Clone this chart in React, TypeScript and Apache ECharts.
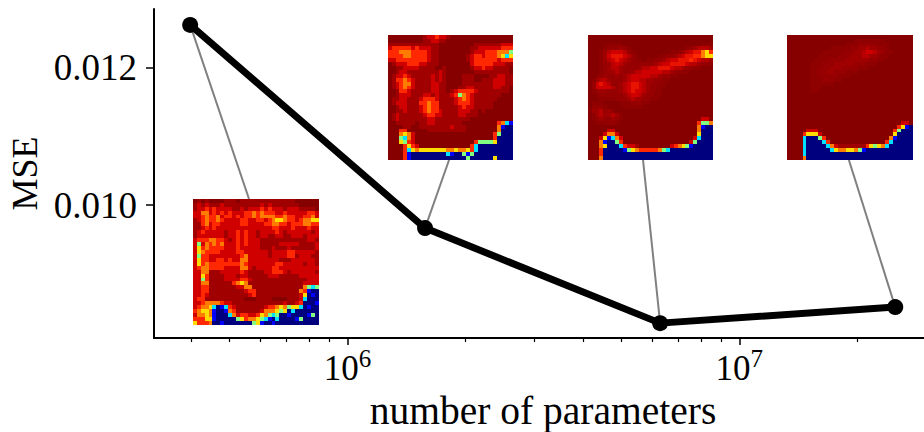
import React, { useEffect, useRef } from "react";
import * as echarts from "echarts";

const FONT = "'Liberation Serif', serif";

const parameterCounts = [397000, 1578000, 6280000, 25000000];
const mseValues = [0.012628, 0.009664, 0.008277, 0.008511];
const xMajorTicks = [1e6, 1e7];
const xMinorTicks = [4e5, 5e5, 6e5, 7e5, 8e5, 9e5, 2e6, 3e6, 4e6, 5e6, 6e6, 7e6, 8e6, 9e6, 2e7];
const yTicks = [0.01, 0.012];
const connectorEnds: [number, number][] = [
  [561000, 0.010088],
  [1817000, 0.010657],
  [5680000, 0.010657],
  [19040000, 0.010657],
];

// Jet colours, value 9 = darkest red .. 0 = darkest blue
const jetScale = ["#00007f", "#0000ff", "#00e0ff", "#80ff80", "#ffdc00", "#ff7c00", "#ff2800", "#d00000", "#a00000", "#860000"];
// In-between levels used in the cell rows
const halfLevels: Record<string, number> = { a: 8.67, b: 8.33, c: 7.5, d: 6.5 };

const inset1 = [
  "98989999 88898888 88888888 88999999",
  "87878887 88888888 87878888 88899999",
  "87767677 77887877 76767778 77788889",
  "77557676 76777665 65666776 77777667",
  "77656657 66767665 65555665 66776657",
  "87656656 77776677 66765445 66765544",
  "88657667 77776677 77665566 76665566",
  "88767677 77777777 77776677 76777677",
  "87677777 87767677 87777678 77777787",
  "87777777 87767677 87788778 87778777",
  "76665566 78767677 78888888 88888778",
  "73756565 77767677 78888877 77788887",
  "74656666 77767777 78887888 78888887",
  "74566667 77766777 77787777 66777778",
  "73667777 77776577 77787777 66877788",
  "74667766 76775577 77777788 87777778",
  "74656666 66665677 77777667 77778778",
  "76556666 77775578 77776677 77777777",
  "77558887 77776788 88776667 87777778",
  "77468888 77787788 88877788 88877777",
  "77368888 77776678 88888888 88888777",
  "77558888 88654588 88888888 88887777",
  "77668888 88877558 88888888 88885323",
  "77668888 88888766 88888888 88856100",
  "77678888 88888876 88888888 88874010",
  "76688888 88888999 88889999 88872000",
  "77655556 77888888 88888887 88760001",
  "76554201 26788888 88766545 34420100",
  "65445100 15688888 87555434 02000000",
  "75545100 02576677 64532300 10000130",
  "66644100 00034655 43210200 00130000",
  "46665001 00000003 41001000 00000000",
];
const inset2 = [
  "99999999 98776778 99999999 99999999",
  "99999999 98877889 99999999 99999999",
  "88888888 88888999 99999988 88888777",
  "76666676 77788999 99999887 77777666",
  "66655566 66788999 99999877 76665553",
  "66665566 66788999 99998766 76665424",
  "77666666 66788999 99998766 66667666",
  "98777666 77888999 99999766 66677788",
  "99887777 88889989 99999877 67788889",
  "99877888 88888789 99999988 88888889",
  "98776788 88878789 99988899 99887788",
  "98665678 88878789 99988899 88877788",
  "98765578 88877889 99988888 88877788",
  "98765678 88877889 99887788 88877889",
  "99866788 88877889 87666678 88888889",
  "99877788 87787888 76356788 88888999",
  "98877888 76667888 87656788 88889999",
  "98777888 66566888 87666788 88899999",
  "99877888 76566888 88767788 88899999",
  "99887888 76566788 88777889 89999999",
  "98788888 87667788 88778889 99999999",
  "98788888 88778888 88888999 99999999",
  "99888889 88778888 88899999 99996521",
  "99998899 88888888 78889999 99995100",
  "99966999 99888888 88889999 99995000",
  "99954579 99999999 99999999 99963000",
  "99932579 99999999 99999999 99960000",
  "99943679 99999999 99999963 33340000",
  "99996467 99999999 99999620 00000000",
  "99996245 44444445 54554620 00000000",
  "99996100 00000002 10031300 00000000",
  "99996100 00000000 00003000 00040000",
];
const inset3 = [
  "99999999 99999999 99999999 99999999",
  "99999999 99999999 99999999 99999999",
  "99999aaa a9999999 99999999 99999aaa",
  "9999abbb 8ba99999 99999999 9ab8ccc8",
  "999a8c77 7cba9999 99999aab 8c7dd546",
  "999a87dd d7cba999 99aabb8c 7dd66544",
  "999a8c7d 7c8baa9a abb8c77d dd6d7cc8",
  "999ab8c7 c8bbbbbb b8c77ddd d7cc8bba",
  "999ab8cc 8bbbb8cc 77ddd7cc 8bbaa999",
  "999ab88c 8bb8cc77 777cc8bb aa999999",
  "99ab8bb8 b8c77777 cc8bbaa9 99999999",
  "9a8cc8bb b8c77cc8 8bbaa999 99999999",
  "9b7d7cbb 8c7dd7c8 bbaa9999 99999999",
  "9b7777cb 8c7dd7c8 bbaa9999 99999999",
  "9ab88bbb 8c7d77c8 baa99999 99999999",
  "99abbbbb b8c77c8b baa99999 99999999",
  "999aaaab bb8c88bb aa999999 99999999",
  "9aaa9999 aaabbbaa 99999999 99999999",
  "9bbba999 9aaaaa99 99999999 99999999",
  "a88cb8a9 99999999 99999999 99999999",
  "9a8c88c8 a9999999 99999999 99999999",
  "9ab8bb8b a9999999 99999999 99999779",
  "99aaabba 99999999 99999999 99996335",
  "99999999 99999999 99999999 99995100",
  "99999779 99999999 99999999 99995000",
  "99997557 99999999 99999999 99994000",
  "99974125 79999999 99999999 99972000",
  "99951003 69999999 99999999 99730000",
  "99954000 26778999 99999765 43100000",
  "99960000 01345666 66532000 00000000",
  "99960000 00000000 00000000 00000000",
  "99950000 00000000 00000000 00000000",
];
const inset4 = [
  "99999999 99999999 99999999 99999999",
  "99999999 99999999 9aaaaaaa a9999999",
  "99999999 9999999a aabbbbba aa999999",
  "99999999 999aaaaa bb88c88b ba999999",
  "99999999 9aaaaabb b88c77c8 baa99999",
  "99999999 aaaaabbb 888cc88b aa999999",
  "9999999a aabbbbb8 88888bba a9999999",
  "999999aa abbb8888 8bbbaaa9 99999999",
  "999999aa bbb888bb bbaaa999 99999999",
  "999999aa bb88bbba aa999999 99999999",
  "999999aa bbbbbaaa 99999999 99999999",
  "999999aa abbbaa99 99999999 99999999",
  "999999aa aaaa9999 99999999 99999999",
  "999999aa a9999999 99999999 99999999",
  "999999aa 99999999 99999999 99999999",
  "99999999 99999999 99999999 99999999",
  "99999999 99999999 99999999 99999999",
  "99999999 99999999 99999999 99999999",
  "99999999 99999999 99999999 99999999",
  "99999999 99999999 99999999 99999999",
  "99999999 99999999 99999999 99999999",
  "99999999 99999999 99999999 99999999",
  "99999999 99999999 99999999 99999779",
  "99999999 99999999 99999999 99996410",
  "99999777 99999999 99999999 99963000",
  "99996444 79999999 99999999 99940000",
  "99992000 36999999 99999999 99510000",
  "99992000 02699999 99999999 96200000",
  "99992000 00257888 88886434 52000000",
  "99992000 00024554 45310000 00000000",
  "99992000 00000000 00000000 00000000",
  "99995000 00000000 00000000 00000000",
];
const insets = [inset1, inset2, inset3, inset4];
const insetBoxes = [
  { left: 193, top: 199, width: 126, height: 126 },
  { left: 388, top: 35, width: 125, height: 125 },
  { left: 588, top: 35, width: 125, height: 125 },
  { left: 787, top: 35, width: 126, height: 125 },
];
const X_MIN = 321000;
const X_MAX = 29600000;
const Y_MIN = 0.00806;
const Y_MAX = 0.01286;

function cellsOf(rows: string[]) {
  const cells: number[][] = [];
  rows.forEach((row, r) => {
    row.replace(/ /g, "").split("").forEach((c, col) => cells.push([col, r, halfLevels[c] ?? Number(c)]));
  });
  return cells;
}
const cellIds = Array.from({ length: 32 }, (_, i) => String(i));

export default function App() {
  const ref = useRef<HTMLDivElement>(null);
  useEffect(() => {
    const chart = echarts.init(ref.current!, undefined, { renderer: "svg" });
    const mainGrid = { left: 154, top: 9, width: 770, height: 329, outerBoundsMode: "none" };
    const xBase = { type: "log", logBase: 10, min: X_MIN, max: X_MAX, gridIndex: 0, splitLine: { show: false }, minorTick: { show: false }, minorSplitLine: { show: false } };
    const hiddenCat = (gridIndex: number, inverse: boolean) => ({
      type: "category", data: cellIds, gridIndex: gridIndex, inverse, show: false, boundaryGap: true,
    });
    chart.setOption({
      animation: false,
      backgroundColor: "#ffffff",
      textStyle: { fontFamily: FONT },
      grid: [mainGrid, ...insetBoxes.map((b) => ({ ...b, outerBoundsMode: "none" }))],
      visualMap: {
        show: false, type: "continuous", min: 0, max: 9,
        seriesIndex: [5, 6, 7, 8],
        inRange: { color: jetScale },
      },
      xAxis: [
        {
          ...xBase,
          name: "number of parameters",
          nameLocation: "middle",
          nameGap: 53,
          nameTextStyle: { fontFamily: FONT, fontSize: 39.5, color: "#000", padding: [0, 0, 0, 8] },
          axisLine: { show: true, lineStyle: { color: "#000", width: 2 } },
          axisTick: { show: true, length: 7, lineStyle: { color: "#000", width: 1.5 }, customValues: xMajorTicks },
          axisLabel: {
            show: true,
            customValues: xMajorTicks,
            margin: 8,
            formatter: (v: number) => `{b|10}{s|${Math.round(Math.log10(v))}}`,
            rich: {
              b: { fontFamily: FONT, fontSize: 35, color: "#000", lineHeight: 40, verticalAlign: "bottom" },
              s: { fontFamily: FONT, fontSize: 25, color: "#000", lineHeight: 40, verticalAlign: "top" },
            },
          },
        },
        {
          ...xBase,
          position: "bottom",
          axisLine: { show: false },
          axisTick: { show: true, length: 4, lineStyle: { color: "#000", width: 1.2 }, customValues: xMinorTicks },
          axisLabel: { show: false },
        },
        ...insetBoxes.map((_, i) => hiddenCat(i + 1, false)),
      ],
      yAxis: [
        {
          type: "value", min: Y_MIN, max: Y_MAX, gridIndex: 0,
          name: "MSE",
          nameLocation: "middle",
          nameGap: 110,
          nameRotate: 90,
          nameTextStyle: { fontFamily: FONT, fontSize: 36, color: "#000" },
          splitLine: { show: false },
          axisLine: { show: true, lineStyle: { color: "#000", width: 2 } },
          axisTick: { show: true, length: 8, lineStyle: { color: "#000", width: 1.5 }, customValues: yTicks },
          axisLabel: {
            show: true, customValues: yTicks, margin: 17,
            fontFamily: FONT, fontSize: 37, color: "#000",
            formatter: (v: number) => v.toFixed(3),
          },
        },
        ...insetBoxes.map((_, i) => hiddenCat(i + 1, true)),
      ],
      series: [
        ...connectorEnds.map((end, i) => ({
          type: "line", xAxisIndex: 0, yAxisIndex: 0, symbol: "none", silent: true, z: 1,
          lineStyle: { color: "#808080", width: 2 },
          data: [[parameterCounts[i], mseValues[i]], end],
        })),
        {
          type: "line", xAxisIndex: 0, yAxisIndex: 0, symbol: "circle", symbolSize: 16, z: 4,
          itemStyle: { color: "#000" },
          lineStyle: { color: "#000", width: 7 },
          data: parameterCounts.map((x, i) => [x, mseValues[i]]),
        },
        ...insets.map((rows, i) => ({
          type: "heatmap", xAxisIndex: i + 2, yAxisIndex: i + 1, z: 3, silent: true, progressive: 0,
          itemStyle: { borderWidth: 0 },
          data: cellsOf(rows),
        })),
      ],
    });
    return () => chart.dispose();
  }, []);
  return (
    <>
      <style>{'svg path[fill]:not([fill="none"]):not([fill="#000"]){shape-rendering:crispEdges}'}</style>
      <div ref={ref} style={{ position: "absolute", left: 0, top: 0, width: 924, height: 432 }} />
    </>
  );
}
